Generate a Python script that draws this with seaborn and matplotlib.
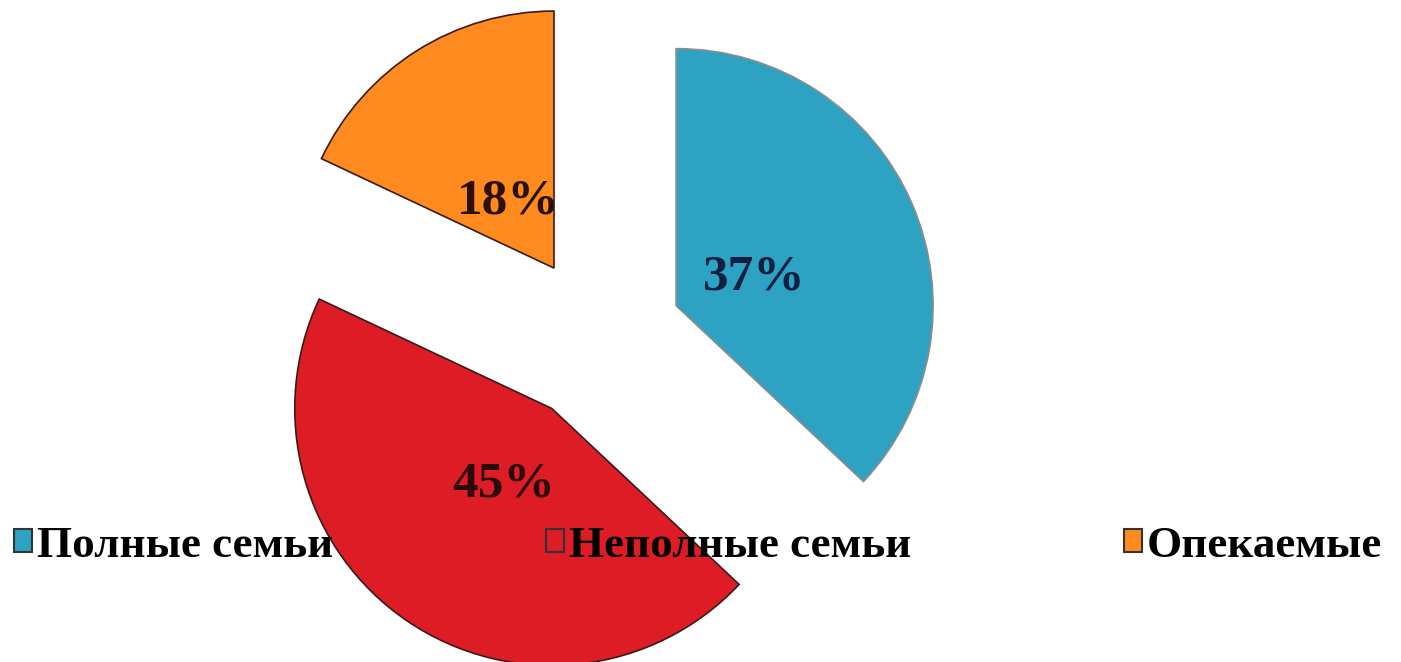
import matplotlib
matplotlib.use("Agg")
import matplotlib.pyplot as plt
import seaborn as sns

categories = ["Полные семьи", "Неполные семьи", "Опекаемые"]
values = [37, 45, 18]
colors = ["#2EA2C2", "#DD1C26", "#FF8A1F"]
edge_colors = ["#8C8C8C", "#3A1A1A", "#3A1A1A"]
label_colors = ["#0F2040", "#2A0A0A", "#2B1005"]

sns.set_theme(style="white")
plt.rcParams["font.family"] = ["Liberation Serif", "DejaVu Serif"]

W, H = 1401, 662
fig = plt.figure(figsize=(W / 100, H / 100), dpi=100)
ax = fig.add_axes([0, 0, 1, 1])

palette = sns.color_palette(colors)
R = 257
wedges, texts, autotexts = ax.pie(
    values,
    colors=palette,
    startangle=90,
    counterclock=False,
    radius=R,
    center=(599, H - 339),
    explode=[84, 84, 84],
    autopct="%1.0f%%",
    pctdistance=0.33,
    textprops=dict(fontsize=37, fontweight="bold"),
    wedgeprops=dict(linewidth=1.2),
)
for w, ec in zip(wedges, edge_colors):
    w.set_edgecolor(ec)
for t, c in zip(autotexts, label_colors):
    t.set_color(c)
    t.set_verticalalignment("center_baseline")

ax.set_xlim(0, W)
ax.set_ylim(0, H)
ax.set_aspect("equal")
ax.axis("off")

leg = ax.legend(
    wedges,
    categories,
    loc="center left",
    bbox_to_anchor=(0.010, 1 - 546 / H),
    ncol=3,
    frameon=False,
    prop=dict(family="Liberation Serif", weight="bold", size=32.5),
    labelcolor="black",
    handlelength=0.4,
    handleheight=0.4,
    handletextpad=0.12,
    columnspacing=4.7,
    borderpad=0,
    borderaxespad=0,
)
for h, c in zip(leg.legend_handles, colors):
    h.set_facecolor(c)
    h.set_edgecolor("#333333")
    h.set_linewidth(1.5)
leg.set_zorder(10)

fig.savefig("out.png", dpi=100)
